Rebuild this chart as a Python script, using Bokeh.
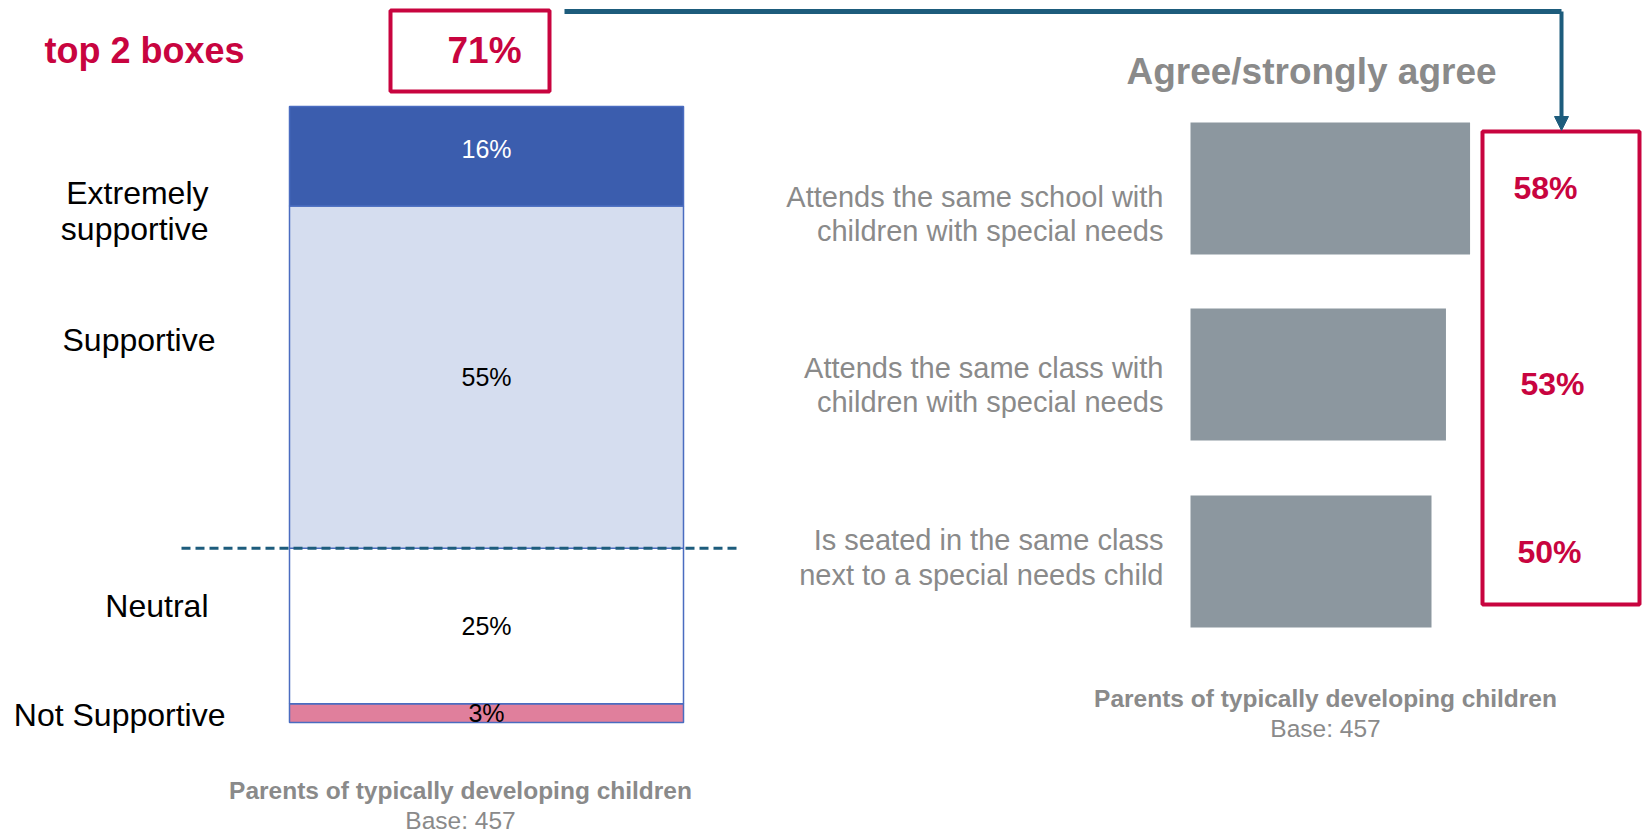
from bokeh.plotting import figure
from bokeh.models import Range1d, ColumnDataSource, Arrow, NormalHead
from bokeh.core.properties import value
from bokeh.embed import file_html
from bokeh.resources import INLINE

# ---------------- data ----------------
support_levels = ["Not Supportive", "Neutral", "Supportive", "Extremely supportive"]
support_pct = [3, 25, 55, 16]
support_label_lines = [["Not Supportive"], ["Neutral"], ["Supportive"], ["Extremely", "supportive"]]
top2_pct = 71
top2_title = "top 2 boxes"

agree_items = [
    ["Attends the same school with", "children with special needs"],
    ["Attends the same class with", "children with special needs"],
    ["Is seated in the same class", "next to a special needs child"],
]
agree_pct = [58, 53, 50]
agree_title = "Agree/strongly agree"
caption = "Parents of typically developing children"
base_n = 457

# ---------------- styles ----------------
W, H = 1646, 836
FONT = value("Liberation Sans")
DARK_BLUE = "#3b5dae"
LIGHT_BLUE = "#d5ddef"
PINK = "#e07f9c"
GRAY_BAR = "#8c979f"
RED = "#c8043f"
TEAL = "#1d5c7c"
GRAY_TXT = "#8a8a8a"
seg_colors = [PINK, "#ffffff", LIGHT_BLUE, DARK_BLUE]
seg_text_colors = ["#000000", "#000000", "#000000", "#ffffff"]
seg_text_offsets = [0, 0, 0, -7]

p = figure(width=W, height=H, x_range=Range1d(0, W), y_range=Range1d(H, 0),
           output_backend="svg", toolbar_location=None, min_border=0,
           background_fill_color="white", border_fill_color="white")
p.axis.visible = False
p.grid.visible = False
p.outline_line_color = None

# stacked bar scale: value 0 at px 722, total at px 106
total = sum(support_pct)
bot_px, top_px = 722, 106
ppu = (bot_px - top_px) / total
p.extra_y_ranges = {"stack": Range1d(start=-(H - bot_px) / ppu, end=total + top_px / ppu)}

# agree bar scale: value 0 at px 1190, 4.82 px per %
x0_px, ppx = 1190, 4.82
p.extra_x_ranges = {"agree": Range1d(start=-x0_px / ppx, end=(W - x0_px) / ppx)}

# ---- stacked bar ----
bottoms, tops = [], []
c = 0
for v in support_pct:
    bottoms.append(c)
    c += v
    tops.append(c)
mids = [(b + t) / 2 for b, t in zip(bottoms, tops)]
src = ColumnDataSource(dict(bottom=bottoms, top=tops, mid=mids, color=seg_colors,
                            tcolor=seg_text_colors, yoff=seg_text_offsets,
                            label=[f"{v}%" for v in support_pct]))
p.vbar(x=486, width=394, bottom="bottom", top="top", fill_color="color",
       line_color="#4a6cc0", line_width=1.5, source=src, y_range_name="stack")
p.text(x=486, y="mid", text="label", text_color="tcolor", text_font=FONT,
       text_font_size="25px", text_align="center", text_baseline="middle",
       y_offset="yoff", source=src, y_range_name="stack")

# dashed line at the top-2 boundary
boundary = tops[1]
p.segment(x0=181, x1=741, y0=boundary, y1=boundary, line_color=TEAL, line_width=3,
          line_dash="9 5", y_range_name="stack")

# category labels on the left
label_right_px = [225, 208, 215, 208]
label_y_px = [[714], [605], [339], [192, 228]]
for lines, xr, ys in zip(support_label_lines, label_right_px, label_y_px):
    for ln, yy in zip(lines, ys):
        p.text(x=[xr], y=[yy], text=[ln], text_font=FONT, text_font_size="32px",
               text_color="#000000", text_align="right", text_baseline="middle")

# top 2 boxes
p.text(x=[44], y=[50], text=[top2_title], text_font=FONT, text_font_size="36px",
       text_font_style="bold", text_color=RED, text_align="left", text_baseline="middle")
p.quad(left=390, right=549, top=10, bottom=91, fill_color=None, line_color=RED, line_width=4)
p.text(x=[484], y=[50], text=[f"{top2_pct}%"], text_font=FONT, text_font_size="37px",
       text_font_style="bold", text_color=RED, text_align="center", text_baseline="middle")

# connector
p.line(x=[564, 1561], y=[11, 11], line_color=TEAL, line_width=5)
p.add_layout(Arrow(end=NormalHead(size=14, fill_color=TEAL, line_color=TEAL),
                   x_start=1561, y_start=11, x_end=1561, y_end=130,
                   line_color=TEAL, line_width=4))

# ---- right bars ----
row_y_px = [188, 374, 561]
asrc = ColumnDataSource(dict(y=row_y_px, right=agree_pct, left=[0] * len(agree_pct),
                             label=[f"{v}%" for v in agree_pct]))
p.hbar(y="y", height=132, left="left", right="right", fill_color=GRAY_BAR,
       line_color=None, source=asrc, x_range_name="agree")

p.text(x=[1311], y=[71], text=[agree_title], text_font=FONT, text_font_size="37px",
       text_font_style="bold", text_color=GRAY_TXT, text_align="center", text_baseline="middle")

item_line_y = [[196, 230], [367, 401], [539, 574]]
for lines, ys in zip(agree_items, item_line_y):
    for ln, yy in zip(lines, ys):
        p.text(x=[1163], y=[yy], text=[ln], text_font=FONT, text_font_size="29px",
               text_color=GRAY_TXT, text_align="right", text_baseline="middle")

p.quad(left=1482, right=1639, top=131, bottom=604, fill_color=None, line_color=RED, line_width=4)
pct_y_px = [187, 383, 551]
p.text(x=[1545, 1552, 1549], y=pct_y_px, text=[f"{v}%" for v in agree_pct], text_font=FONT,
       text_font_size="32px", text_font_style="bold", text_color=RED,
       text_align="center", text_baseline="middle")

# captions
for cx, cy in [(460, 790), (1325, 698)]:
    p.text(x=[cx], y=[cy], text=[caption], text_font=FONT, text_font_size="24.5px",
           text_font_style="bold", text_color=GRAY_TXT, text_align="center", text_baseline="middle")
    p.text(x=[cx], y=[cy + 30], text=[f"Base: {base_n}"], text_font=FONT, text_font_size="24.5px",
           text_color=GRAY_TXT, text_align="center", text_baseline="middle")

open("out.html", "w").write(file_html(p, INLINE))
